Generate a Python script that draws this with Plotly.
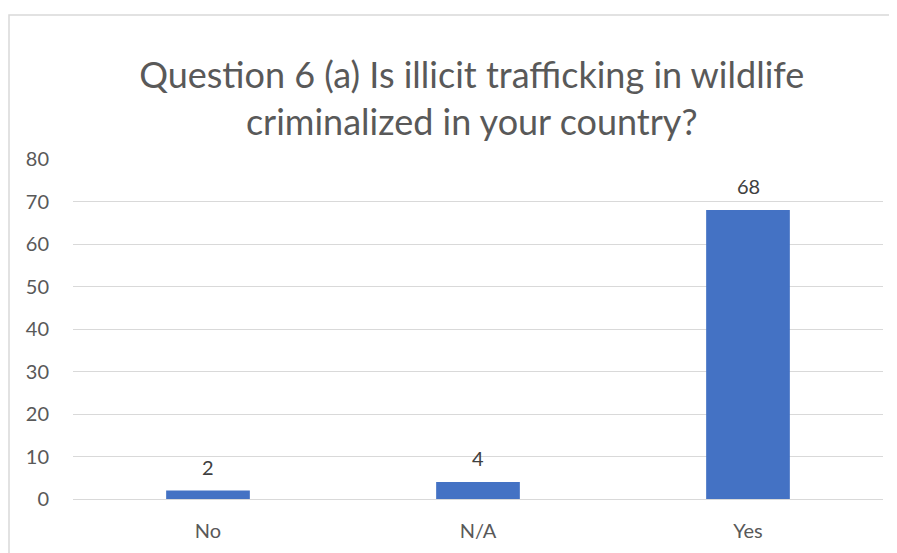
import plotly.graph_objects as go

categories = ["No", "N/A", "Yes"]
values = [2, 4, 68]
y_ticks = [0, 10, 20, 30, 40, 50, 60, 70, 80]

FONT = "Lato"

# figure-pixel geometry (page has an 8px body margin)
L, R, T, B = 65, 22, 151, 62
PW = 897 - L - R
PH = 553 - T - B

fig = go.Figure(go.Bar(
    x=categories, y=values,
    marker=dict(color="#4472C4", line=dict(width=0)),
    width=0.31,
    hoverinfo="x+y",
))

for c, v in zip(categories, values):
    fig.add_annotation(
        x=c, y=v, text=str(v), showarrow=False,
        xanchor="center", yanchor="bottom", yshift=10,
        font=dict(family=FONT, size=20, color="#404040"),
    )

fig.update_layout(
    width=897, height=553,
    margin=dict(l=L, r=R, t=T, b=B),
    paper_bgcolor="white", plot_bgcolor="white",
    title=dict(
        text="Question 6 (a) Is illicit trafficking in wildlife<br>criminalized in your country?",
        x=0.517, xanchor="center", y=0.855, yanchor="middle",
        font=dict(family=FONT, size=36, color="#595959"),
    ),
    showlegend=False,
    xaxis=dict(
        showgrid=False, showline=False, zeroline=False,
        tickfont=dict(family=FONT, size=20, color="#595959"),
        ticklabelstandoff=18,
    ),
    yaxis=dict(
        range=[0, 80], tickvals=y_ticks,
        showgrid=True, gridcolor="#d9d9d9", gridwidth=1,
        zeroline=True, zerolinecolor="#d9d9d9", zerolinewidth=1,
        showline=False,
        tickfont=dict(family=FONT, size=20, color="#595959"),
        ticklabelstandoff=23,
    ),
    shapes=[dict(
        type="rect", xref="paper", yref="paper",
        x0=(1 - L) / PW, x1=(920 - L) / PW,
        y0=(553 - B - 600) / PH, y1=(553 - B - 7) / PH,
        line=dict(color="#d9d9d9", width=1.5), fillcolor="rgba(0,0,0,0)", layer="below",
    )],
)

fig.write_html("out.html")
